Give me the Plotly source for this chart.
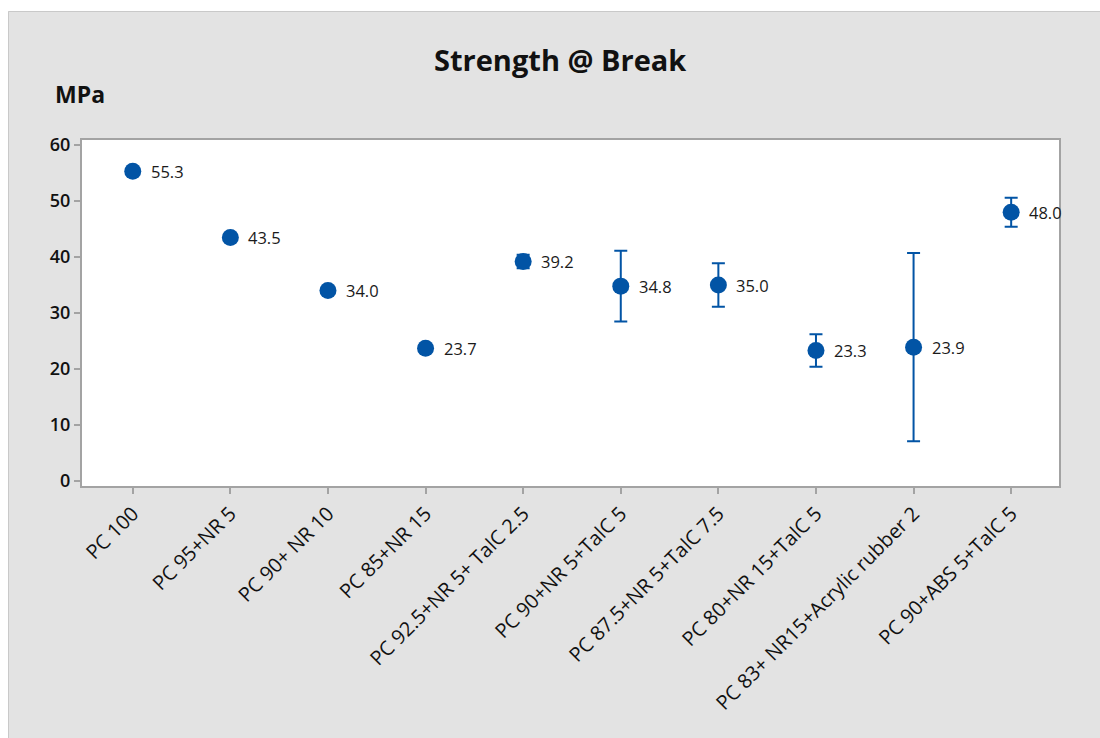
import plotly.graph_objects as go

# Tensile strength at break for each PC blend
blends = [
    "PC 100",
    "PC 95+NR 5",
    "PC 90+ NR 10",
    "PC 85+NR 15",
    "PC 92.5+NR 5+ TalC 2.5",
    "PC 90+NR 5+TalC 5",
    "PC 87.5+NR 5+TalC 7.5",
    "PC 80+NR 15+TalC 5",
    "PC 83+ NR15+Acrylic rubber 2",
    "PC 90+ABS 5+TalC 5",
]
strength = [55.3, 43.5, 34.0, 23.7, 39.2, 34.8, 35.0, 23.3, 23.9, 48.0]
strength_err = [0.0, 0.0, 0.0, 0.0, 1.2, 6.3, 3.9, 2.9, 16.8, 2.6]
y_ticks = [0, 10, 20, 30, 40, 50, 60]

BLUE = "#0254a5"
PANEL = "#e3e3e3"
FONT = "Open Sans"

# plot-area geometry in pixels
W, H = 1100, 738
L, R, T, B = 82, 1059, 140, 486
pw, ph = R - L, B - T


def px_x(x):
    return (x - L) / pw


def px_y(y):
    return (B - y) / ph


x_idx = list(range(len(blends)))

fig = go.Figure()
fig.add_trace(
    go.Scatter(
        x=x_idx,
        y=strength,
        mode="markers",
        marker=dict(size=17, color=BLUE, line=dict(width=0)),
        error_y=dict(
            type="data",
            array=strength_err,
            visible=True,
            color=BLUE,
            thickness=2,
            width=6.5,
        ),
        showlegend=False,
        hoverinfo="skip",
    )
)

for xi, v in zip(x_idx, strength):
    fig.add_annotation(
        x=xi,
        y=v,
        text=f"{v:.1f}",
        showarrow=False,
        xanchor="left",
        yanchor="middle",
        xshift=16,
        font=dict(family=FONT, size=16.5, color="#1a1a1a"),
    )

# title and unit label
fig.add_annotation(
    xref="paper", yref="paper",
    x=px_x(560), y=px_y(60),
    text="<b>Strength @ Break</b>",
    showarrow=False, xanchor="center", yanchor="middle",
    font=dict(family=FONT, size=29, color="#111111"),
)
fig.add_annotation(
    xref="paper", yref="paper",
    x=px_x(53), y=px_y(94),
    text="<b>MPa</b>",
    showarrow=False, xanchor="left", yanchor="middle",
    font=dict(family=FONT, size=23, color="#111111"),
)

# white page margin around the grey panel, with the panel's top/left edge
for x0, y0, x1, y1 in [(-5, -5, W + 5, 11), (-5, -5, 8, H + 5)]:
    fig.add_shape(
        type="rect", xref="paper", yref="paper", layer="below",
        x0=px_x(x0), y0=px_y(y0), x1=px_x(x1), y1=px_y(y1),
        fillcolor="white", line=dict(width=0),
    )
fig.add_shape(
    type="path", xref="paper", yref="paper", layer="below",
    path=f"M {px_x(8.5)} {px_y(H + 5)} L {px_x(8.5)} {px_y(11.5)} L {px_x(W + 5)} {px_y(11.5)}",
    line=dict(color="#c9c9c9", width=1),
)

axis_line = "#a3a3a3"
fig.update_xaxes(
    range=[-0.52, 9.49],
    tickmode="array",
    tickvals=x_idx,
    ticktext=blends,
    tickangle=-45,
    tickfont=dict(family=FONT, size=20, color="#111111", weight=500),
    ticks="outside", ticklen=6, tickcolor=axis_line, tickwidth=1.5,
    showline=True, linecolor=axis_line, linewidth=2, mirror=True,
    showgrid=False, zeroline=False,
)
fig.update_yaxes(
    range=[-0.9, 60.9],
    tickmode="array",
    tickvals=y_ticks,
    tickfont=dict(family=FONT, size=18, color="#111111", weight=600),
    ticks="outside", ticklen=6, tickcolor=axis_line, tickwidth=1.5,
    showline=True, linecolor=axis_line, linewidth=2, mirror=True,
    showgrid=False, zeroline=False,
)
fig.update_layout(
    width=W, height=H,
    margin=dict(l=L, r=W - R, t=T, b=H - B, autoexpand=False),
    paper_bgcolor=PANEL,
    plot_bgcolor="white",
    font=dict(family=FONT),
)

fig.write_html("out.html")
